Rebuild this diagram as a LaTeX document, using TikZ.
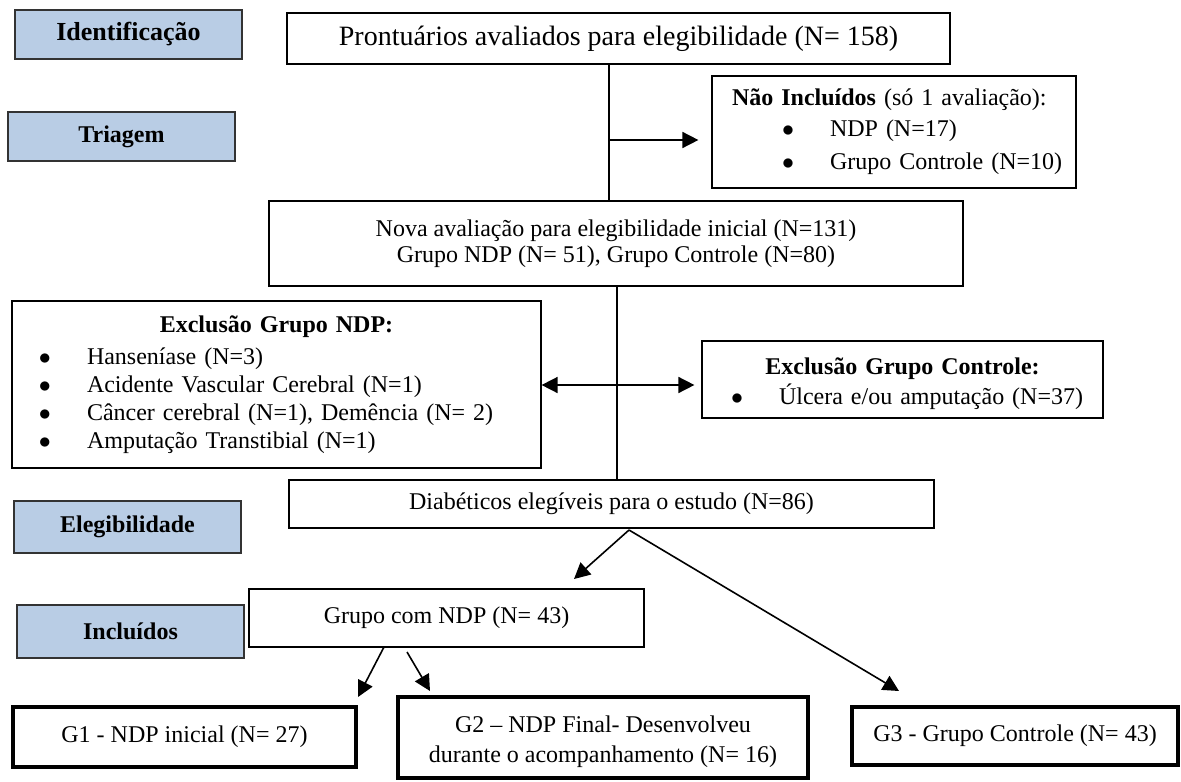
\documentclass[tikz,border=0pt]{standalone}
\usepackage{fontspec}
\setmainfont{Liberation Serif}
\usetikzlibrary{arrows.meta}
\usetikzlibrary{calc}
\definecolor{azulclaro}{HTML}{B9CDE5}
\newcommand{\doze}{\fontsize{12}{14}\selectfont}
\newcommand{\marca}[1]{\hspace*{#1}\makebox[24pt][l]{$\bullet$}}
\tikzstyle{etapa} = [draw=black!80, line width=0.8pt, fill=azulclaro, font=\doze\bfseries, minimum width=113.5pt, minimum height=24.5pt, inner sep=0pt]
\tikzstyle{caixa} = [draw, line width=0.6pt, inner sep=0pt, font=\doze]
\tikzstyle{lista} = [draw, line width=0.6pt, inner xsep=5pt, inner ysep=0pt, align=left]
\tikzstyle{grupo} = [draw, line width=1.8pt, inner sep=0pt, align=center, font=\doze]
\tikzstyle{seta} = [-{Triangle[length=8pt,width=8pt]}, line width=0.8pt]

\begin{document}
\begin{tikzpicture}[x=0.5pt, y=-0.5pt]
\useasboundingbox (0,0) rectangle (1181,781);
% etapas
\node[etapa, font=\fontsize{13}{15}\selectfont\bfseries] (idt) at (128.5,34.5) {Identificação};
\node[etapa] (tri) at (121.5,136.5) {Triagem};
\node[etapa, minimum height=26pt] (ele) at (127.5,527) {Elegibilidade};
\node[etapa, minimum height=26.5pt] (inc) at (130.5,631.5) {Incluídos};

% fluxo
\node[caixa, minimum width=331.5pt, minimum height=25.5pt, font=\fontsize{14}{16}\selectfont] (pront) at (618.5,38.5) {Prontuários avaliados para elegibilidade (N= 158)};
\node[lista, text width=172pt, minimum height=56pt, font=\fontsize{12}{15.5}\selectfont] (naoinc) at (894,132) {\hspace*{5pt}\textbf{Não Incluídos} (só 1 avaliação):\\ \marca{30pt}NDP (N=17)\\[1pt] \marca{30pt}Grupo Controle (N=10)};
\node[caixa, align=center, minimum width=347pt, minimum height=42.5pt, font=\fontsize{12}{13}\selectfont] (nova) at (616,243.5) {Nova avaliação para elegibilidade inicial (N=131)\\ Grupo NDP (N= 51), Grupo Controle (N=80)};
\node[lista, text width=254.5pt, minimum height=83.5pt, font=\fontsize{12}{14}\selectfont] (exndp) at (276.5,384.5) {\makebox[\linewidth]{\textbf{Exclusão Grupo NDP:}}\\[2pt] \marca{8.5pt}Hanseníase (N=3)\\ \marca{8.5pt}Acidente Vascular Cerebral (N=1)\\ \marca{8.5pt}Câncer cerebral (N=1), Demência (N= 2)\\ \marca{8.5pt}Amputação Transtibial (N=1)};
\node[lista, text width=190.5pt, minimum height=38.5pt, font=\fontsize{12}{15}\selectfont] (exctl) at (902.5,379.5) {\rule{0pt}{13pt}\makebox[\linewidth]{\textbf{Exclusão Grupo Controle:}}\\ \marca{9.5pt}Úlcera e/ou amputação (N=37)};
\node[caixa, minimum width=322.5pt, minimum height=24pt] (diab) at (611.5,504) {Diabéticos elegíveis para o estudo (N=86)};
\node[caixa, minimum width=197.5pt, minimum height=29pt] (gndp) at (446.5,618) {Grupo com NDP (N= 43)};
\node[grupo, minimum width=171.5pt, minimum height=30pt] (g1) at (184.5,737) {G1 - NDP inicial (N= 27)};
\node[grupo, minimum width=205pt, minimum height=40.5pt, font=\fontsize{12}{15}\selectfont] (g2) at (603,737.5) {\rule{0pt}{13pt}G2 – NDP Final- Desenvolveu\\ durante o acompanhamento (N= 16)};
\node[grupo, minimum width=163pt, minimum height=29pt] (g3) at (1015,736) {G3 - Grupo Controle (N= 43)};

% pontos das setas
\coordinate (c1) at (609,140);
\coordinate (c2) at (617,385);
\coordinate (c3) at (629,530);
\coordinate (t1) at (574,579);
\coordinate (t3) at (899,691);
\coordinate (s1) at (384,647);
\coordinate (t2) at (358,697);
\coordinate (s2) at (407,652);
\coordinate (t4) at (430,691);

\draw[line width=0.8pt] (c1 |- pront.south) -- (c1 |- nova.north);
\draw[seta, shorten >=6.5pt] (c1) -- (c1 -| naoinc.west);
\draw[line width=0.8pt] (c2 |- nova.south) -- (c2 |- diab.north);
\draw[seta] (c2) -- (c2 -| exndp.east);
\draw[seta, shorten >=3.5pt] (c2) -- (c2 -| exctl.west);
\draw[seta] (c3) -- (t1);
\draw[seta] (c3) -- (t3);
\draw[seta] (s1) -- (t2);
\draw[seta] (s2) -- (t4);
\end{tikzpicture}
\end{document}
